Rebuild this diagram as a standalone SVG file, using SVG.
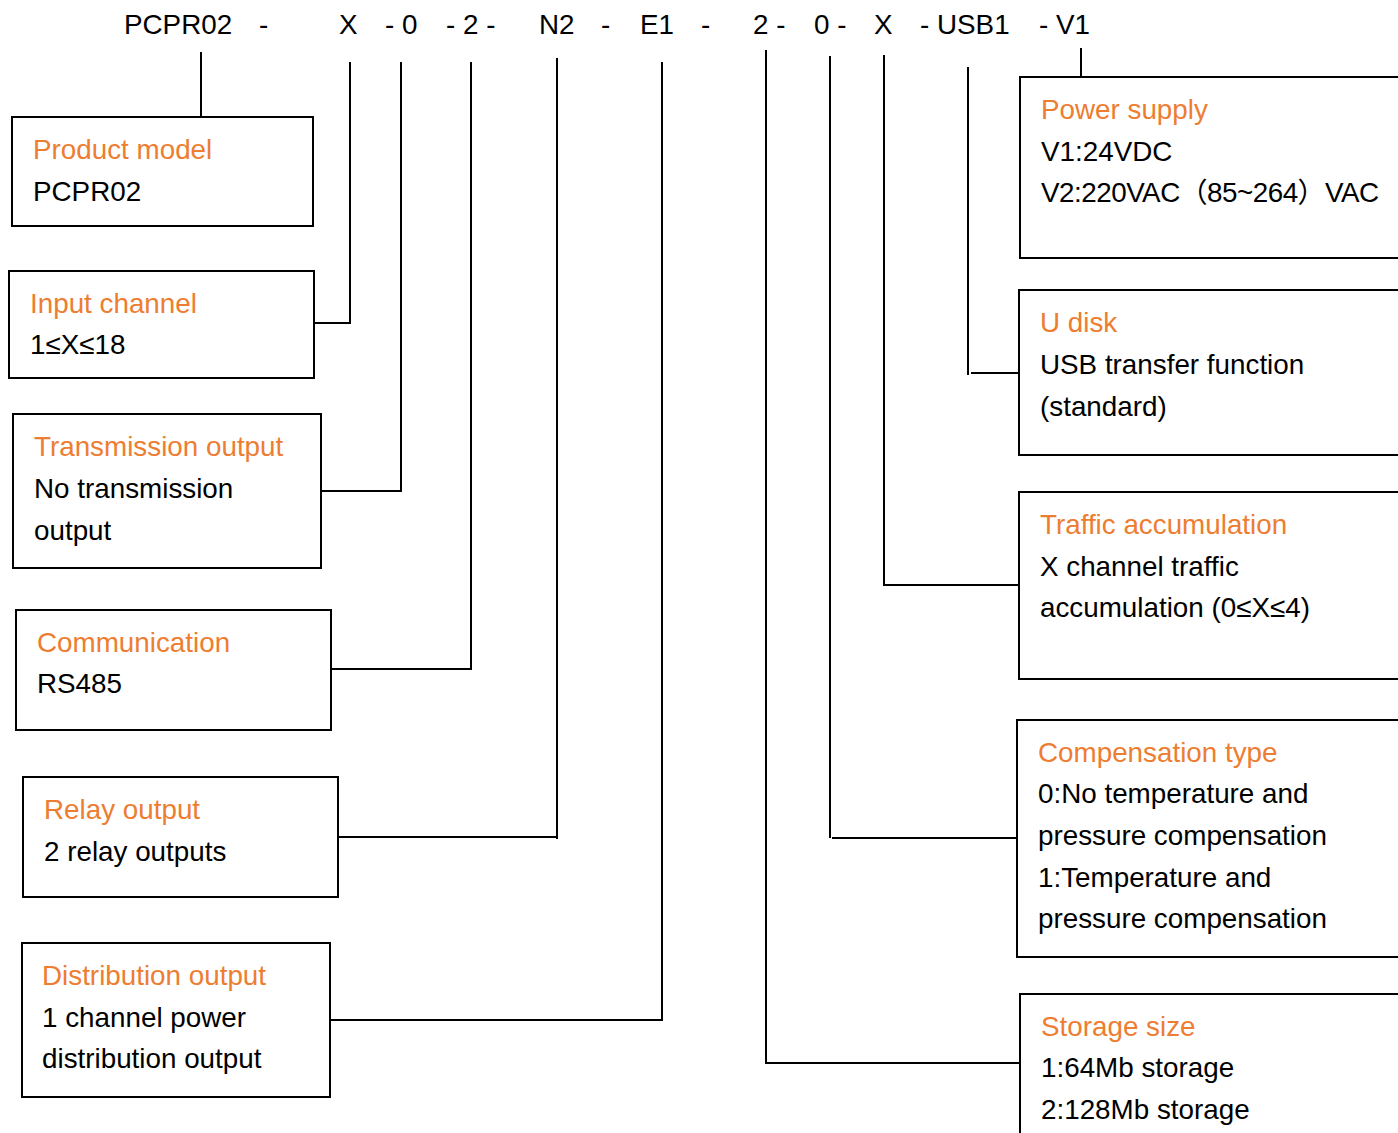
<svg xmlns="http://www.w3.org/2000/svg" width="1398" height="1133" viewBox="0 0 1398 1133">
<style>
text{font-family:"Liberation Sans","Noto Sans CJK SC",Arial,sans-serif;font-size:27.8px;fill:#000}
.t{fill:#ED7D31}
.box{fill:#fff;stroke:#000;stroke-width:2}
.c{fill:none;stroke:#000;stroke-width:2}
</style>
<rect width="1398" height="1133" fill="#fff"/>
<g id="header">
<text x="124" y="34">PCPR02</text>
<text x="259" y="34">-</text>
<text x="339" y="34">X</text>
<text x="385" y="34">- 0</text>
<text x="446" y="34">- 2 -</text>
<text x="539" y="34">N2</text>
<text x="601" y="34">-</text>
<text x="640" y="34">E1</text>
<text x="701" y="34">-</text>
<text x="753" y="34">2 -</text>
<text x="814" y="34">0 -</text>
<text x="874" y="34">X</text>
<text x="920" y="34">- USB1</text>
<text x="1039" y="34">- V1</text>
</g>
<g id="connectors">
<path class="c" d="M201 52V117"/>
<path class="c" d="M350 62V323H314"/>
<path class="c" d="M401 62V491H321"/>
<path class="c" d="M471 62V669H331"/>
<path class="c" d="M557 58V839M557 837H338"/>
<path class="c" d="M662 62V1020H330"/>
<path class="c" d="M766 50V1063H1020"/>
<path class="c" d="M830 56V838M832 838H1017"/>
<path class="c" d="M884 55V585H1019"/>
<path class="c" d="M968 67V375M971 373H1019"/>
<path class="c" d="M1081 48V77"/>
</g>
<g id="product-model">
<rect class="box" x="12" y="117" width="301" height="109"/>
<text class="t" x="33" y="159">Product model</text>
<text x="33" y="201">PCPR02</text>
</g>
<g id="input-channel">
<rect class="box" x="9" y="271" width="305" height="107"/>
<text class="t" x="30" y="313">Input channel</text>
<text x="30" y="354">1≤X≤18</text>
</g>
<g id="transmission-output">
<rect class="box" x="13" y="414" width="308" height="154"/>
<text class="t" x="34" y="456">Transmission output</text>
<text x="34" y="498">No transmission</text>
<text x="34" y="540">output</text>
</g>
<g id="communication">
<rect class="box" x="16" y="610" width="315" height="120"/>
<text class="t" x="37" y="652">Communication</text>
<text x="37" y="693">RS485</text>
</g>
<g id="relay-output">
<rect class="box" x="23" y="777" width="315" height="120"/>
<text class="t" x="44" y="819">Relay output</text>
<text x="44" y="861">2 relay outputs</text>
</g>
<g id="distribution-output">
<rect class="box" x="22" y="943" width="308" height="154"/>
<text class="t" x="42" y="985">Distribution output</text>
<text x="42" y="1027">1 channel power</text>
<text x="42" y="1068">distribution output</text>
</g>
<g id="power-supply">
<rect class="box" x="1020" y="77" width="400" height="181"/>
<text class="t" x="1041" y="119">Power supply</text>
<text x="1041" y="161">V1:24VDC</text>
<text x="1041" y="202" textLength="338" lengthAdjust="spacing">V2:220VAC（85~264）VAC</text>
</g>
<g id="u-disk">
<rect class="box" x="1019" y="290" width="400" height="165"/>
<text class="t" x="1040" y="332">U disk</text>
<text x="1040" y="374">USB transfer function</text>
<text x="1040" y="416">(standard)</text>
</g>
<g id="traffic-accumulation">
<rect class="box" x="1019" y="492" width="400" height="187"/>
<text class="t" x="1040" y="534">Traffic accumulation</text>
<text x="1040" y="576">X channel traffic</text>
<text x="1040" y="617">accumulation (0≤X≤4)</text>
</g>
<g id="compensation-type">
<rect class="box" x="1017" y="720" width="400" height="237"/>
<text class="t" x="1038" y="762">Compensation type</text>
<text x="1038" y="803">0:No temperature and</text>
<text x="1038" y="845">pressure compensation</text>
<text x="1038" y="887">1:Temperature and</text>
<text x="1038" y="928">pressure compensation</text>
</g>
<g id="storage-size">
<rect class="box" x="1020" y="994" width="400" height="200"/>
<text class="t" x="1041" y="1036">Storage size</text>
<text x="1041" y="1077">1:64Mb storage</text>
<text x="1041" y="1119">2:128Mb storage</text>
</g>
</svg>
